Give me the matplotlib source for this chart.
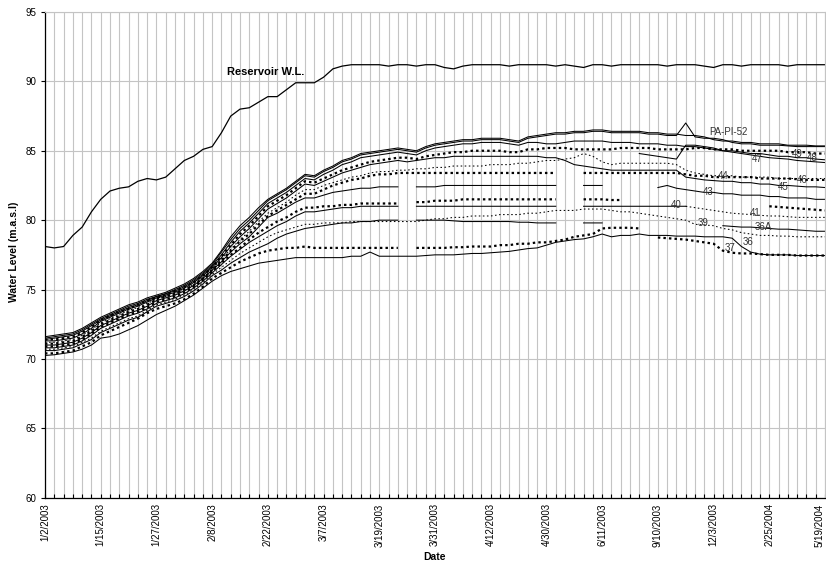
import numpy as np
import matplotlib
matplotlib.use('Agg')
import matplotlib.pyplot as plt

plt.rcParams['font.family'] = ['Liberation Sans', 'DejaVu Sans']

nan = None

tick_labels = ['1/2/2003', '1/15/2003', '1/27/2003', '2/8/2003', '2/22/2003', '3/7/2003',
               '3/19/2003', '3/31/2003', '4/12/2003', '4/30/2003', '6/11/2003', '9/10/2003',
               '12/3/2003', '2/25/2004', '5/19/2004']

reservoir = [78.1, 78.0, 78.1, 78.9, 79.5, 80.6, 81.5, 82.1, 82.3, 82.4,
             82.8, 83.0, 82.9, 83.1, 83.7, 84.3, 84.6, 85.1, 85.3, 86.3,
             87.5, 88.0, 88.1, 88.5, 88.9, 88.9, 89.4, 89.9, 89.9, 89.9,
             90.3, 90.9, 91.1, 91.2, 91.2, 91.2, 91.2, 91.1, 91.2, 91.2,
             91.1, 91.2, 91.2, 91.0, 90.9, 91.1, 91.2, 91.2, 91.2, 91.2,
             91.1, 91.2, 91.2, 91.2, 91.2, 91.1, 91.2, 91.1, 91.0, 91.2,
             91.2, 91.1, 91.2, 91.2, 91.2, 91.2, 91.2, 91.1, 91.2, 91.2,
             91.2, 91.1, 91.0, 91.2, 91.2, 91.1, 91.2, 91.2, 91.2, 91.2,
             91.1, 91.2, 91.2, 91.2, 91.2]

# piezometers, top to bottom
pz_a = [71.6, 71.7, 71.8, 71.9, 72.2, 72.6, 73.0, 73.3, 73.6, 73.9,
        74.1, 74.4, 74.6, 74.8, 75.1, 75.4, 75.8, 76.3, 76.9, 77.8,
        78.8, 79.6, 80.2, 80.9, 81.5, 81.9, 82.3, 82.8, 83.3, 83.2,
        83.6, 83.9, 84.3, 84.5, 84.8, 84.9, 85.0, 85.1, 85.2, 85.1,
        85.0, 85.3, 85.5, 85.6, 85.7, 85.8, 85.8, 85.9, 85.9, 85.9,
        85.8, 85.7, 86.0, 86.1, 86.2, 86.3, 86.3, 86.4, 86.4, 86.5,
        86.5, 86.4, 86.4, 86.4, 86.4, 86.3, 86.3, 86.2, 86.2, 86.1,
        86.1, 86.0, 85.8, 85.7, 85.7, 85.6, 85.6, 85.5, 85.5, 85.5,
        85.4, 85.4, 85.4, 85.35, 85.35]

pz_52 = [71.5, 71.6, 71.7, 71.8, 72.1, 72.5, 72.9, 73.2, 73.5, 73.8,
         74.0, 74.3, 74.5, 74.7, 75.0, 75.3, 75.7, 76.2, 76.8, 77.7,
         78.6, 79.4, 80.0, 80.7, 81.4, 81.8, 82.2, 82.7, 83.2, 83.1,
         83.5, 83.8, 84.2, 84.4, 84.7, 84.8, 84.9, 85.0, 85.1, 85.0,
         84.9, 85.2, 85.4, 85.5, 85.6, 85.7, 85.7, 85.8, 85.8, 85.8,
         85.7, 85.6, 85.9, 86.0, 86.1, 86.2, 86.2, 86.3, 86.3, 86.4,
         86.4, 86.3, 86.3, 86.3, 86.3, 86.2, 86.2, 86.1, 86.1, 87.0,
         86.0, 85.9, 85.9, 85.8, 85.6, 85.5, 85.5, 85.4, 85.4, 85.4,
         85.35, 85.3, 85.3, 85.3, 85.3]

pz_48 = [71.4, 71.5, 71.6, 71.7, 72.0, 72.4, 72.8, 73.1, 73.4, 73.7,
         73.9, 74.2, 74.5, 74.7, 74.9, 75.2, 75.6, 76.1, 76.7, 77.5,
         78.4, 79.2, 79.8, 80.5, 81.2, 81.6, 82.0, 82.5, 83.0, 82.9,
         83.3, 83.6, 84.0, 84.2, 84.5, 84.6, 84.7, 84.8, 84.9, 84.8,
         84.7, 85.0, 85.2, 85.3, 85.4, 85.5, 85.5, 85.6, 85.6, 85.6,
         85.5, 85.4, 85.6, 85.6, 85.5, 85.5, 85.6, 85.7, 85.7, 85.7,
         85.7, 85.6, 85.6, 85.6, 85.5, 85.5, 85.5, 85.4, 85.4, 85.3,
         85.3, 85.2, 85.1, 85.0, 85.0, 84.9, 84.8, 84.8, 84.7, 84.6,
         84.6, 84.5, 84.5, 84.4, 84.35]

pz_49 = [71.4, 71.4, 71.5, 71.6, 71.9, 72.3, 72.8, 73.1, 73.4, 73.6,
         73.9, 74.2, 74.4, 74.6, 74.9, 75.2, 75.5, 76.0, 76.6, 77.4,
         78.2, 79.0, 79.6, 80.3, 81.0, 81.4, 81.8, 82.3, 82.8, 82.7,
         83.0, 83.3, 83.6, 83.8, 84.0, 84.2, 84.3, 84.4, 84.5, 84.5,
         84.4, 84.6, 84.7, 84.8, 84.9, 84.9, 85.0, 85.0, 85.0, 85.0,
         84.9, 84.9, 85.1, 85.1, 85.2, 85.2, 85.2, 85.1, 85.1, 85.1,
         85.1, 85.1, 85.2, 85.2, 85.2, 85.2, 85.1, 85.1, 85.1, 85.1,
         85.2, 85.2, 85.1, 85.1, 85.1, 85.0, 85.0, 85.0, 85.0, 85.0,
         84.9, 84.9, 84.9, 84.8, 84.8]

pz_45 = [71.3, 71.3, 71.4, 71.5, 71.8, 72.2, 72.7, 73.0, 73.3, 73.6,
         73.8, 74.1, 74.4, 74.6, 74.8, 75.1, 75.5, 76.0, 76.6, 77.3,
         78.1, 78.8, 79.4, 80.1, 80.8, 81.2, 81.6, 82.1, 82.6, 82.5,
         82.8, 83.1, 83.4, 83.6, 83.8, 84.0, 84.1, 84.2, 84.3, 84.2,
         84.3, 84.4, 84.5, 84.5, 84.6, 84.6, 84.6, 84.6, 84.6, 84.6,
         84.6, 84.6, 84.6, 84.6, 84.5, 84.5, 84.3, 84.0, 83.9, 83.8,
         83.7, 83.6, 83.6, 83.6, 83.6, 83.6, 83.6, 83.6, 83.6, 83.1,
         83.0, 82.9, 82.85, 82.8, 82.8, 82.7, 82.7, 82.6, 82.6, 82.5,
         82.5, 82.45, 82.4, 82.4, 82.35]

pz_44 = [71.2, 71.2, 71.3, 71.4, 71.7, 72.1, 72.6, 72.9, 73.2, 73.5,
         73.7, 74.0, 74.3, 74.5, 74.7, 75.0, 75.4, 75.9, 76.5, 77.2,
         77.9, 78.6, 79.2, 79.9, 80.5, 80.9, 81.3, 81.8, 82.2, 82.2,
         82.5, 82.7, 82.9, 83.1, 83.2, 83.4, 83.5, 83.5, 83.6, 83.6,
         83.7, 83.7, 83.8, 83.8, 83.9, 83.9, 83.9, 83.9, 84.0, 84.0,
         84.0, 84.1, 84.1, 84.2, 84.3, 84.3, 84.4, 84.5, 84.8, 84.6,
         84.2, 84.0, 84.1, 84.1, 84.1, 84.1, 84.1, 84.1, 84.0, 83.6,
         83.4, 83.3, 83.2, 83.2, 83.2, 83.1, 83.1, 83.1, 83.1, 83.0,
         83.0, 83.0, 83.0, 83.0, 83.0]

pz_46 = [71.1, 71.1, 71.2, 71.3, 71.6, 72.0, 72.5, 72.8, 73.1, 73.4,
         73.6, 73.9, 74.3, 74.5, 74.7, 75.0, 75.3, 75.8, 76.4, 77.1,
         77.8, 78.5, 79.0, 79.7, 80.3, 80.7, 81.1, 81.5, 81.9, 81.9,
         82.2, 82.5, 82.7, 82.9, 83.0, 83.2, 83.3, 83.3, 83.4, 83.4,
         83.4, 83.4, 83.4, 83.4, 83.4, 83.4, 83.4, 83.4, 83.4, 83.4,
         83.4, 83.4, 83.4, 83.4, 83.4, 83.4, nan, nan, 83.4, 83.4,
         83.4, 83.4, 83.4, 83.4, 83.4, 83.4, 83.4, 83.4, 83.4, 83.3,
         83.2, 83.2, 83.1, 83.1, 83.1, 83.1, 83.1, 83.0, 83.0, 83.0,
         83.0, 82.95, 82.9, 82.9, 82.9]

pz_43 = [71.0, 71.0, 71.1, 71.2, 71.5, 71.9, 72.4, 72.7, 73.0, 73.3,
         73.5, 73.8, 74.2, 74.4, 74.6, 74.9, 75.3, 75.8, 76.4, 77.0,
         77.7, 78.3, 78.8, 79.5, 80.2, 80.5, 80.9, 81.3, 81.6, 81.6,
         81.8, 82.0, 82.1, 82.2, 82.3, 82.3, 82.4, 82.4, 82.4, nan,
         82.4, 82.4, 82.4, 82.5, 82.5, 82.5, 82.5, 82.5, 82.5, 82.5,
         82.5, 82.5, 82.5, 82.5, 82.5, 82.5, nan, nan, 82.5, 82.5,
         82.5, nan, nan, nan, nan, nan, 82.35, 82.5, 82.3, 82.2,
         82.1, 82.0, 82.0, 81.9, 81.9, 81.8, 81.8, 81.8, 81.7, 81.7,
         81.6, 81.6, 81.6, 81.5, 81.5]

pz_42 = [70.9, 70.9, 71.0, 71.1, 71.4, 71.8, 72.3, 72.6, 72.9, 73.2,
         73.4, 73.7, 74.1, 74.3, 74.5, 74.8, 75.2, 75.7, 76.3, 76.9,
         77.5, 78.0, 78.6, 79.1, 79.5, 79.9, 80.2, 80.6, 80.9, 80.9,
         81.0, 81.0, 81.1, 81.1, 81.2, 81.2, 81.2, 81.2, 81.2, nan,
         81.3, 81.3, 81.4, 81.4, 81.4, 81.5, 81.5, 81.5, 81.5, 81.5,
         81.5, 81.5, 81.5, 81.5, 81.5, 81.5, nan, nan, 81.5, 81.5,
         81.5, 81.45, 81.45, nan, nan, nan, nan, nan, nan, nan,
         nan, nan, nan, nan, nan, nan, nan, nan, 81.0, 80.95,
         80.9, 80.85, 80.8, 80.75, 80.7]

pz_40 = [70.8, 70.8, 70.9, 71.0, 71.3, 71.7, 72.2, 72.5, 72.8, 73.1,
         73.3, 73.6, 74.0, 74.2, 74.4, 74.7, 75.1, 75.6, 76.2, 76.8,
         77.4, 77.9, 78.4, 78.8, 79.2, 79.6, 79.9, 80.3, 80.6, 80.6,
         80.7, 80.8, 80.9, 80.9, 81.0, 81.0, 81.0, 81.0, 81.0, nan,
         81.0, 81.0, 81.0, 81.0, 81.0, 81.0, 81.0, 81.0, 81.0, 81.0,
         81.0, 81.0, 81.0, 81.0, 81.0, 81.0, nan, nan, 81.0, 81.0,
         81.0, 81.0, 81.0, 81.0, 81.0, 81.0, 81.0, 81.0, 81.0, 81.0,
         nan, nan, nan, nan, nan, nan, nan, nan, nan, nan,
         nan, nan, nan, nan, nan]

pz_41 = [nan] * 69 + [81.0,
         80.9, 80.8, 80.7, 80.6, 80.5, 80.45, 80.4, 80.35, 80.3, 80.3,
         80.25, 80.2, 80.2, 80.2, 80.2]

pz_39 = [70.7, 70.7, 70.8, 70.9, 71.2, 71.5, 72.0, 72.3, 72.6, 72.9,
         73.1, 73.5, 73.9, 74.1, 74.3, 74.6, 75.0, 75.5, 76.1, 76.6,
         77.1, 77.6, 78.0, 78.4, 78.8, 79.1, 79.3, 79.5, 79.7, 79.7,
         79.8, 79.8, 79.8, 79.9, 79.9, 79.9, 79.9, 79.9, 79.9, 79.9,
         79.9, 80.0, 80.1, 80.1, 80.2, 80.2, 80.3, 80.3, 80.3, 80.4,
         80.4, 80.4, 80.5, 80.5, 80.6, 80.7, 80.7, 80.7, 80.8, 80.8,
         80.8, 80.7, 80.6, 80.6, 80.5, 80.4, 80.3, 80.2, 80.1, 80.0,
         79.7, 79.65, 79.6, 79.4, 79.3, 79.1, 79.0, 78.9, 78.9, 78.85,
         78.85, 78.8, 78.8, 78.8, 78.8]

pz_36a = [70.6, 70.6, 70.7, 70.8, 71.1, 71.4, 71.9, 72.2, 72.5, 72.8,
          73.0, 73.4, 73.8, 74.0, 74.2, 74.5, 74.9, 75.4, 76.0, 76.4,
          76.9, 77.3, 77.7, 78.0, 78.3, 78.7, 79.0, 79.2, 79.4, 79.5,
          79.6, 79.7, 79.8, 79.8, 79.9, 79.9, 80.0, 80.0, 80.0, nan,
          80.0, 80.0, 80.0, 80.0, 79.95, 79.9, 79.9, 79.9, 79.9, 79.9,
          79.9, 79.85, 79.85, 79.8, 79.8, 79.8, nan, nan, 79.8, 79.8,
          79.8, nan, nan, nan, nan, nan, nan, nan, nan, nan,
          nan, nan, nan, 79.6, 79.55, 79.5, 79.5, 79.45, 79.4, 79.35,
          79.35, 79.3, 79.25, 79.2, 79.2]

pz_37 = [70.4, 70.4, 70.5, 70.6, 70.9, 71.2, 71.7, 72.0, 72.3, 72.6,
         72.9, 73.3, 73.6, 73.8, 74.0, 74.3, 74.7, 75.2, 75.8, 76.2,
         76.6, 77.0, 77.3, 77.6, 77.8, 77.9, 78.0, 78.0, 78.1, 78.0,
         78.0, 78.0, 78.0, 78.0, 78.0, 78.0, 78.0, 78.0, 78.0, nan,
         78.0, 78.0, 78.0, 78.0, 78.05, 78.05, 78.1, 78.1, 78.1, 78.2,
         78.2, 78.3, 78.3, 78.4, 78.4, 78.5, 78.6, 78.8, 78.9, 79.0,
         79.4, 79.45, 79.45, 79.45, 79.4, nan, 78.75, 78.7, 78.65, 78.6,
         78.5, 78.4, 78.3, 77.8, 77.65, 77.6, 77.6, 77.55, 77.5, 77.5,
         77.5, 77.45, 77.45, 77.45, 77.45]

pz_36 = [70.25, 70.3, 70.4, 70.5, 70.7, 71.0, 71.5, 71.6, 71.8, 72.1,
         72.4, 72.8, 73.2, 73.5, 73.8, 74.2, 74.6, 75.1, 75.6, 76.0,
         76.3, 76.5, 76.7, 76.9, 77.0, 77.1, 77.2, 77.3, 77.3, 77.3,
         77.3, 77.3, 77.3, 77.4, 77.4, 77.7, 77.4, 77.4, 77.4, 77.4,
         77.4, 77.45, 77.5, 77.5, 77.5, 77.55, 77.6, 77.6, 77.65, 77.7,
         77.75, 77.85, 77.95, 78.0, 78.2, 78.4, 78.5, 78.6, 78.65, 78.8,
         79.0, 78.8, 78.9, 78.9, 79.0, 78.9, 78.9, 78.9, 78.85, 78.85,
         78.85, 78.8, 78.8, 78.8, 78.7, 78.1, 77.7, 77.55, 77.5, 77.5,
         77.5, 77.45, 77.45, 77.45, 77.45]

pz_47 = [nan] * 64 + [84.8, 84.7, 84.6, 84.5, 84.4, 85.4,
         85.4, 85.3, 85.2, 85.0, 84.9, 84.8, 84.7, 84.6, 84.5, 84.45,
         84.4, 84.3, 84.25, 84.2, 84.15]

# (values, style) : 's' solid, 'q' square dots, 'd' fine dots
series = [
    (pz_a, 's'), (pz_52, 's'), (pz_48, 's'), (pz_49, 'q'), (pz_45, 's'),
    (pz_44, 'd'), (pz_46, 'q'), (pz_43, 's'), (pz_42, 'q'), (pz_40, 's'),
    (pz_41, 'd'), (pz_39, 'd'), (pz_36a, 's'), (pz_37, 'q'), (pz_36, 's'),
    (pz_47, 's'),
]

# data labels: text, category, level
labels = [('PA-PI-52', 73.6, 86.35), ('47', 76.7, 84.4), ('49', 81.0, 84.75),
          ('48', 82.6, 84.45), ('44', 73.0, 83.2), ('46', 81.6, 82.9),
          ('45', 79.5, 82.4), ('43', 71.4, 82.0), ('40', 68.0, 81.1),
          ('41', 76.5, 80.5), ('39', 70.9, 79.8), ('36A', 77.4, 79.5),
          ('36', 75.7, 78.4), ('37', 73.8, 78.0)]

fig = plt.figure(figsize=(8.26, 5.65), dpi=100)
ax = fig.add_axes([0.0545, 0.1191, 0.9443, 0.8597])

x = np.arange(len(reservoir))
ax.plot(x, reservoir, color='black', lw=0.9)

for vals, st in series:
    y = np.array(vals, dtype=float)
    if st == 's':
        ax.plot(x, y, color='black', lw=0.75)
    elif st == 'q':
        ax.plot(x, y, color='black', lw=1.6, dashes=(1.1, 1.4))
    else:
        ax.plot(x, y, color='black', lw=0.75, dashes=(1.5, 2.4))

for txt, xi, yv in labels:
    ax.text(xi, yv, txt, fontsize=7, color='#333333', ha='center', va='center')

ax.text(19.6, 90.7, 'Reservoir W.L.', fontsize=8, fontweight='bold', ha='left', va='center')

ax.set_xlim(0, 84)
ax.set_ylim(60, 95)
ax.set_yticks(range(60, 96, 5))
ax.set_xticks(range(0, 85, 6))
ax.set_xticklabels(tick_labels, rotation=90, fontsize=7)
ax.get_xticklabels()[-1].set_horizontalalignment('right')
ax.set_xticks(range(85), minor=True)
ax.tick_params(axis='y', labelsize=7, direction='out', length=3, width=0.8)
ax.tick_params(axis='x', which='both', direction='in', length=3, width=0.8, pad=4)

ax.grid(True, axis='x', which='both', color='#c4c4c4', lw=0.8)
ax.grid(True, axis='y', which='major', color='#c4c4c4', lw=0.8)
ax.set_axisbelow(True)
for s in ['top', 'right']:
    ax.spines[s].set_color('#c4c4c4')
    ax.spines[s].set_linewidth(0.8)
for s in ['left', 'bottom']:
    ax.spines[s].set_linewidth(0.9)

fig.text(14 / 826, 1 - 252 / 565, 'Water Level (m.a.s.l)', rotation=90, fontsize=7.5,
         fontweight='bold', ha='center', va='center')
fig.text(435 / 826, 1 - 557 / 565, 'Date', fontsize=7.5, fontweight='bold',
         ha='center', va='center')

fig.savefig('out.png', dpi=100)
